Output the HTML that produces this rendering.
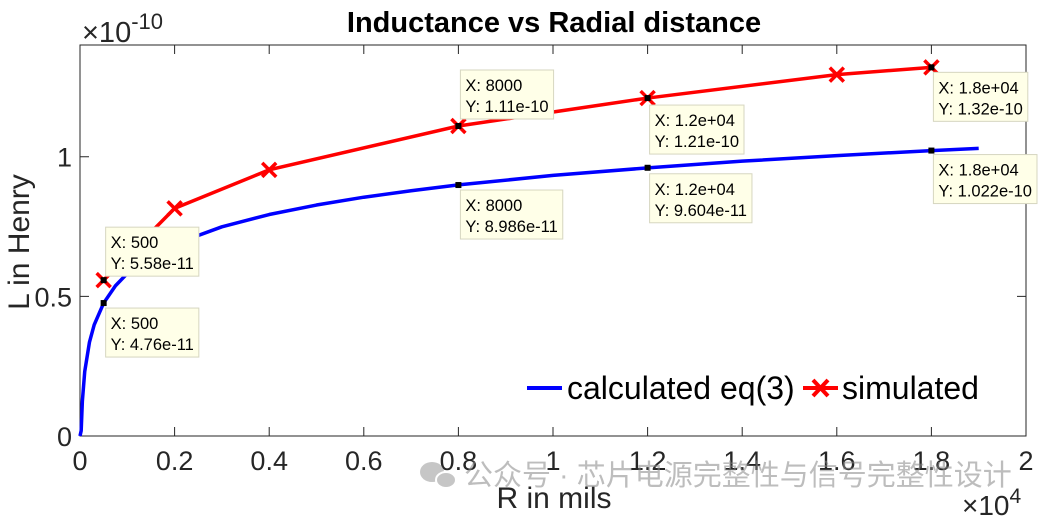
<!DOCTYPE html>
<html><head><meta charset="utf-8"><style>
html,body{margin:0;padding:0;background:#fff;}
svg{display:block;font-family:"Liberation Sans","Noto Sans CJK SC",sans-serif;}
</style></head><body>
<svg id="chart" width="1050" height="521" viewBox="0 0 1050 521">
<rect width="1050" height="521" fill="#fff"/>
<text x="554" y="32" text-anchor="middle" font-size="29" font-weight="bold">Inductance vs Radial distance</text>
<g id="axes"></g>
<g id="series"></g>
<g id="tips"></g>
<text transform="translate(29,242) rotate(-90)" text-anchor="middle" font-size="30" fill="#262626">L in Henry</text>
<text x="554" y="508" text-anchor="middle" font-size="30" fill="#262626">R in mils</text>
<text x="82" y="42" font-size="29" fill="#262626">×10<tspan dy="-13" font-size="22">-10</tspan></text>
<text x="962" y="515" font-size="28" fill="#262626">×10<tspan dy="-12" font-size="21">4</tspan></text>
<g>
<line x1="527" y1="388" x2="562" y2="388" stroke="#0000ff" stroke-width="4"/>
<text x="567" y="399" font-size="32" fill="#000">calculated eq(3)</text>
<line x1="803" y1="388" x2="838" y2="388" stroke="#ff0000" stroke-width="4"/>
<path d="M813 380 L828 396 M828 380 L813 396" stroke="#ff0000" stroke-width="4"/>
<text x="842" y="399" font-size="32" fill="#000">simulated</text>
</g>
<g opacity="0.55">
<ellipse cx="432" cy="472" rx="12" ry="10" fill="#999"/>
<ellipse cx="446" cy="480" rx="10" ry="8" fill="#999" stroke="#fff" stroke-width="2"/>
<text x="464" y="485" font-size="29" fill="#888">公众号 · 芯片电源完整性与信号完整性设计</text>
</g>
</svg>
<script>
const xTicks=[0,0.2,0.4,0.6,0.8,1,1.2,1.4,1.6,1.8,2];
const xTickLabels=["0","0.2","0.4","0.6","0.8","1","1.2","1.4","1.6","1.8","2"];
const yTicks=[0,0.5,1];
const yTickLabels=["0","0.5","1"];
const calcR=[25,50,100,200,300,500,750,1000,1500,2000,3000,4000,5000,6000,7000,8000,10000,12000,14000,16000,18000,19000];
const calcL=[0.19,1.25,2.31,3.36,3.98,4.76,5.38,5.82,6.43,6.87,7.49,7.93,8.27,8.55,8.78,8.99,9.33,9.60,9.84,10.04,10.22,10.30];
const simR=[500,2000,4000,8000,12000,16000,18000];
const simL=[5.58,8.15,9.53,11.1,12.1,12.94,13.2];
const tipR=[500,500,8000,8000,12000,12000,18000,18000];
const tipL=[5.58,4.76,11.1,8.986,12.1,9.604,13.2,10.22];
const tipXText=["500","500","8000","8000","1.2e+04","1.2e+04","1.8e+04","1.8e+04"];
const tipYText=["5.58e-11","4.76e-11","1.11e-10","8.986e-11","1.21e-10","9.604e-11","1.32e-10","1.022e-10"];
const tipDy=[-53,5,-56,5,7,6,5,4];

const NS="http://www.w3.org/2000/svg";
const L=80,R=1026,T=45,B=436;
const sx=r=>L+(r/20000)*(R-L);
const sy=v=>B-(v/14)*(B-T);
function mk(tag,at,parent){const e=document.createElementNS(NS,tag);for(const k in at)e.setAttribute(k,at[k]);parent.appendChild(e);return e;}
const ax=document.getElementById('axes'),se=document.getElementById('series'),tp=document.getElementById('tips');
const box=mk('rect',{x:L,y:T,width:R-L,height:B-T,fill:'none',stroke:'#262626','stroke-width':1},ax);


xTicks.forEach((t,i)=>{const x=sx(t*10000);
 const a=mk('path',{d:`M${x} ${B}v-9M${x} ${T}v9`,stroke:'#262626','stroke-width':1},ax);
 
 
 const tx=mk('text',{x:x,y:B+34,'text-anchor':'middle','font-size':27,fill:'#262626'},ax);tx.textContent=xTickLabels[i];
 
 });
yTicks.forEach((t,i)=>{const y=sy(t*10);
 const a=mk('path',{d:`M${L} ${y}h9M${R} ${y}h-9`,stroke:'#262626','stroke-width':1},ax);
 
 
 const tx=mk('text',{x:L-8,y:y+10,'text-anchor':'end','font-size':27,fill:'#262626'},ax);tx.textContent=yTickLabels[i];
 
 });
let d=`M${sx(0)} ${sy(0)}`;calcR.forEach((r,i)=>{d+=`L${sx(r)} ${sy(calcL[i])}`;});
const cl=mk('path',{d:d,fill:'none',stroke:'#0000ff','stroke-width':3.5,'stroke-linejoin':'round'},se);


let d2='';simR.forEach((r,i)=>{d2+=(i?'L':'M')+sx(r)+' '+sy(simL[i]);});
const sl=mk('path',{d:d2,fill:'none',stroke:'#ff0000','stroke-width':3.5},se);


simR.forEach((r,i)=>{const x=sx(r),y=sy(simL[i]);
 const m=mk('path',{d:`M${x-7} ${y-7}L${x+7} ${y+7}M${x+7} ${y-7}L${x-7} ${y+7}`,stroke:'#ff0000','stroke-width':3.5},se);
 
 });
tipR.forEach((r,i)=>{const x=sx(r),y=sy(tipL[i]);
 const g=mk('g',{},tp);
 
 
 mk('rect',{x:x-3,y:y-3,width:6,height:6,fill:'#000'},g);
 const by=y+tipDy[i];
 const bg=mk('rect',{x:x+2,y:by,width:80,height:49,fill:'#ffffe8',stroke:'#d6d6c0','stroke-width':1},g);
 const t1=mk('text',{x:x+7,y:by+21,'font-size':16.5,fill:'#000'},g);t1.textContent='X: '+tipXText[i];
 const t2=mk('text',{x:x+7,y:by+42,'font-size':16.5,fill:'#000'},g);t2.textContent='Y: '+tipYText[i];
 const w=Math.max(t1.getComputedTextLength(),t2.getComputedTextLength())+10;
 bg.setAttribute('width',w);});
</script>
</body></html>
